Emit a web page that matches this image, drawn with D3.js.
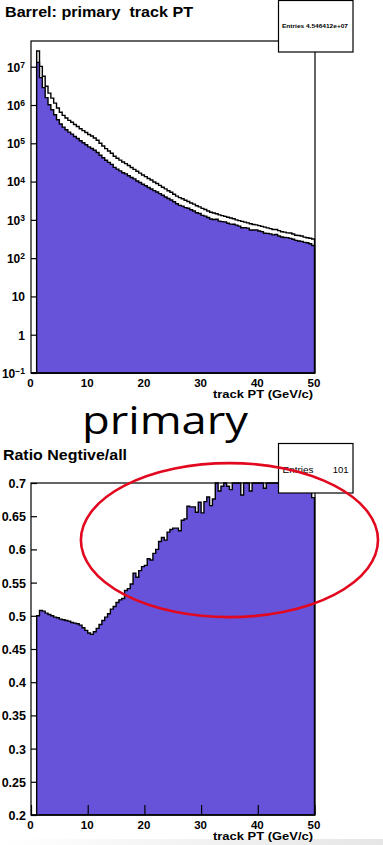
<!DOCTYPE html>
<html><head><meta charset="utf-8">
<script src="https://cdn.jsdelivr.net/npm/d3@7"></script>
<style>
html,body{margin:0;padding:0;background:#fff;}
svg{display:block;}
</style></head><body>
<svg id="c" width="383" height="845"></svg>
<script>
// ---------------- data ----------------
const ptBinWidth = 0.5;
const ptRange = [0, 50];
const allTracks = [0, 0, 2.57e7, 1.02e7, 5.62e6, 3.09e6, 2.04e6, 1.51e6, 1.12e6, 8.32e5,
 6.46e5, 5.37e5, 4.57e5, 3.98e5, 3.55e5, 3.09e5, 2.75e5, 2.40e5, 2.14e5, 1.91e5,
 1.70e5, 1.55e5, 1.38e5, 1.20e5, 1.00e5, 8.51e4, 7.24e4, 6.31e4, 5.50e4, 4.57e4,
 4.07e4, 3.63e4, 3.24e4, 2.95e4, 2.63e4, 2.34e4, 2.09e4, 1.86e4, 1.66e4, 1.48e4,
 1.35e4, 1.20e4, 1.10e4, 9770, 8910, 7940, 7080, 6460, 5750, 5250,
 4680, 4170, 3800, 3550, 3240, 3020, 2750, 2570, 2340, 2190,
 2000, 1860, 1700, 1580, 1510, 1450, 1350, 1290, 1230, 1170,
 1120, 1070, 1000, 955, 912, 871, 832, 794, 759, 741,
 708, 676, 646, 617, 589, 562, 560, 525, 490, 479,
 457, 455, 427, 395, 389, 380, 355, 340, 331, 316];
const negTracks = [0, 0, 1.30e7, 5.18e6, 2.84e6, 1.56e6, 1.02e6, 7.55e5, 5.58e5, 4.14e5,
 3.20e5, 2.65e5, 2.25e5, 1.96e5, 1.74e5, 1.51e5, 1.34e5, 1.17e5, 1.03e5, 9.13e4,
 8.06e4, 7.32e4, 6.57e4, 5.77e4, 4.87e4, 4.20e4, 3.61e4, 3.17e4, 2.81e4, 2.35e4,
 2.12e4, 1.90e4, 1.70e4, 1.59e4, 1.42e4, 1.28e4, 1.18e4, 1.04e4, 9430, 8500,
 7780, 7030, 6420, 5800, 5350, 4860, 4380, 3970, 3600, 3310,
 2960, 2640, 2390, 2290, 2090, 2010, 1830, 1710, 1540, 1470,
 1310, 1250, 1150, 1050, 1020, 1040, 929, 897, 886, 813,
 773, 770, 730, 688, 622, 627, 607, 546, 546, 548,
 510, 493, 447, 444, 430, 405, 414, 378, 358, 345,
 343, 328, 312, 292, 280, 274, 259, 252, 238, 214];
const ratioNegAll = [0, 0, 0.500, 0.508, 0.507, 0.504, 0.502, 0.500, 0.498, 0.497,
 0.495, 0.494, 0.493, 0.492, 0.490, 0.489, 0.488, 0.486, 0.482, 0.478,
 0.474, 0.472, 0.476, 0.481, 0.487, 0.493, 0.498, 0.503, 0.510, 0.514,
 0.520, 0.524, 0.526, 0.538, 0.541, 0.548, 0.564, 0.558, 0.568, 0.574,
 0.576, 0.586, 0.584, 0.594, 0.600, 0.612, 0.618, 0.614, 0.626, 0.630,
 0.632, 0.632, 0.628, 0.644, 0.646, 0.665, 0.664, 0.664, 0.656, 0.671,
 0.655, 0.672, 0.679, 0.666, 0.676, 0.720, 0.688, 0.695, 0.720, 0.695,
 0.690, 0.720, 0.730, 0.720, 0.682, 0.720, 0.730, 0.688, 0.720, 0.740,
 0.720, 0.730, 0.692, 0.720, 0.730, 0.720, 0.740, 0.720, 0.730, 0.720,
 0.750, 0.720, 0.730, 0.740, 0.720, 0.720, 0.730, 0.740, 0.720, 0.678];
const xTickValues = [0, 10, 20, 30, 40, 50];
const xTickLabels = ["0", "10", "20", "30", "40", "50"];
const logTickValues = [1e-1, 1, 10, 1e2, 1e3, 1e4, 1e5, 1e6, 1e7];
const logRange = [0.1, 4.7e7];
const ratioTickValues = [0.2, 0.25, 0.3, 0.35, 0.4, 0.45, 0.5, 0.55, 0.6, 0.65, 0.7];
const ratioTickLabels = ["0.2", "0.25", "0.3", "0.35", "0.4", "0.45", "0.5", "0.55", "0.6", "0.65", "0.7"];
const ratioRange = [0.2, 0.7];
const topTitle = "Barrel: primary  track PT";
const ratioTitle = "Ratio Negtive/all";
const xTitle = "track PT (GeV/c)";
const topEntries = ["Entries", "4.546412e+07"];
const ratioEntries = ["Entries", "101"];
const slideLabel = "primary";
const highlight = {pt: 35, ratio: 0.614, rPt: 26.2, rRatio: 0.116};

// ---------------- drawing ----------------
const svg = d3.select("#c");
const PURPLE = "#6753da";
const FONT = "'Liberation Sans', Arial, Helvetica, sans-serif";

// bottom grey strip of the slide capture
const grad = svg.append("defs").append("linearGradient").attr("id","gs").attr("x1",0).attr("x2",1);
grad.append("stop").attr("offset","0").attr("stop-color","#ffffff");
grad.append("stop").attr("offset","1").attr("stop-color","#e6e6e6");
svg.append("rect").attr("x",0).attr("y",839).attr("width",383).attr("height",6).attr("fill","url(#gs)");

const x = d3.scaleLinear().domain(ptRange).range([31, 314.5]);

function stepPoints(values){
  const pts = values.map((v,i)=>[i*ptBinWidth, v]);
  pts.push([values.length*ptBinWidth, values[values.length-1]]);
  return pts;
}
function histPath(values, yScale){
  const base = yScale.range()[0];
  return d3.area()
    .x(d=>x(d[0]))
    .y0(base)
    .y1(d=> d[1] > 0 ? yScale(d[1]) : base)
    .curve(d3.curveStepAfter)(stepPoints(values));
}
function styleText(sel, size, weight){
  sel.attr("font-family", FONT).attr("font-size", size).attr("font-weight", weight||"bold").attr("fill","#000");
  return sel;
}

// ===== TOP PANEL =====
const yLog = d3.scaleLog().domain(logRange).range([373, 41]).clamp(true);

styleText(svg.append("text").attr("x",5).attr("y",17).style("white-space","pre")
  .attr("textLength",188).attr("lengthAdjust","spacingAndGlyphs").text(topTitle), "15px");

const logMinor = [];
logTickValues.forEach(d=>{ for(let k=2;k<=9;k++){ const v=k*d; if(v<=logRange[1]) logMinor.push(v);} });
const gTopY = svg.append("g").attr("transform","translate(31,0)");
gTopY.call(d3.axisLeft(yLog).tickValues(logMinor).tickSize(-4).tickFormat(()=>""));
gTopY.call(d3.axisLeft(yLog).tickValues(logTickValues).tickSize(-6).tickSizeOuter(0).tickPadding(6).tickFormat(()=>""));
gTopY.selectAll(".domain").remove();
gTopY.selectAll("line").attr("stroke","#000").attr("stroke-width",1.2);
const topLabels = gTopY.selectAll(".tick text").filter(d=>logTickValues.includes(d));
topLabels.each(function(d){
  const t = d3.select(this);
  styleText(t, "12px");
  t.attr("x",-6).attr("dy","0.36em");
  const e = Math.round(Math.log10(d));
  if (e === 0) t.text("1");
  else if (e === 1) t.text("10");
  else {
    t.text(null);
    t.append("tspan").text("10");
    t.append("tspan").attr("dy","-0.45em").attr("font-size","8.5px").text(e<0 ? "\u2212"+(-e) : String(e));
  }
});

svg.append("path").attr("d", histPath(allTracks, yLog)).attr("fill","#fff").attr("stroke","#000").attr("stroke-width",1.4);
svg.append("path").attr("d", histPath(negTracks, yLog)).attr("fill",PURPLE).attr("stroke","#000").attr("stroke-width",1.4);

svg.append("rect").attr("x",31).attr("y",41).attr("width",284).attr("height",332).attr("fill","none").attr("stroke","#000").attr("stroke-width",1.2);

const gTopX = svg.append("g").attr("transform","translate(0,373)");
gTopX.call(d3.axisBottom(x).tickValues(xTickValues).tickSize(0).tickPadding(0).tickFormat((d,i)=>xTickLabels[i]));
gTopX.selectAll(".domain").remove();
gTopX.selectAll(".tick text").each(function(){ styleText(d3.select(this),"11.5px").attr("x",-1).attr("y",13.5).attr("dy",0); });
styleText(svg.append("text").attr("x",313).attr("y",397.5).attr("text-anchor","end")
  .attr("textLength",100).attr("lengthAdjust","spacingAndGlyphs").text(xTitle), "11px");

svg.append("rect").attr("x",278.5).attr("y",0.5).attr("width",74.5).attr("height",51.5).attr("fill","#fff").attr("stroke","#000").attr("stroke-width",1.2);
styleText(svg.append("text").attr("x",282).attr("y",27.5).style("white-space","pre")
  .attr("textLength",66).attr("lengthAdjust","spacingAndGlyphs").text(topEntries[0]+" "+topEntries[1]), "5.5px");

// ===== SLIDE LABEL =====
svg.append("text").attr("x",82).attr("y",434).attr("font-family","'Open Sans', Lato, sans-serif")
  .attr("font-size","38px").attr("fill","#000").attr("textLength",166).attr("lengthAdjust","spacingAndGlyphs").text(slideLabel);

// ===== RATIO PANEL =====
const yR = d3.scaleLinear().domain(ratioRange).range([815, 483]).clamp(true);
styleText(svg.append("text").attr("x",3).attr("y",460).attr("textLength",124).attr("lengthAdjust","spacingAndGlyphs").text(ratioTitle), "15px");

const ratioMinor = d3.range(20, 71).map(v=>v/100).filter(v=>Math.round(v*100)%5!==0);
const gRY = svg.append("g").attr("transform","translate(31,0)");
gRY.call(d3.axisLeft(yR).tickValues(ratioMinor).tickSize(-4).tickFormat(()=>""));
gRY.call(d3.axisLeft(yR).tickValues(ratioTickValues).tickSize(-6).tickSizeOuter(0).tickPadding(5).tickFormat((d,i)=>ratioTickLabels[i]));
gRY.selectAll(".domain").remove();
gRY.selectAll("line").attr("stroke","#000").attr("stroke-width",1.2);
gRY.selectAll(".tick text").each(function(){ styleText(d3.select(this),"12.5px").attr("dy","0.36em"); });

svg.append("path").attr("d", histPath(ratioNegAll, yR)).attr("fill",PURPLE).attr("stroke","#000").attr("stroke-width",1.4);

const gRX = svg.append("g").attr("transform","translate(0,815)");
gRX.call(d3.axisBottom(x).tickValues(d3.range(0,51,2).filter(v=>v%10!==0)).tickSize(-5).tickFormat(()=>""));
gRX.call(d3.axisBottom(x).tickValues(xTickValues).tickSize(-10).tickSizeOuter(0).tickPadding(0).tickFormat((d,i)=>xTickLabels[i]));
gRX.selectAll(".domain").remove();
gRX.selectAll("line").attr("stroke","#000").attr("stroke-width",1.2);
gRX.selectAll(".tick text").each(function(){ styleText(d3.select(this),"11.5px").attr("x",-1).attr("y",13.5).attr("dy",0); });
styleText(svg.append("text").attr("x",313).attr("y",840).attr("text-anchor","end")
  .attr("textLength",100).attr("lengthAdjust","spacingAndGlyphs").text(xTitle), "11px");

svg.append("rect").attr("x",31).attr("y",483).attr("width",284).attr("height",332).attr("fill","none").attr("stroke","#000").attr("stroke-width",1.2);

svg.append("rect").attr("x",278.5).attr("y",443.5).attr("width",74.5).attr("height",49.5).attr("fill","#fff").attr("stroke","#000").attr("stroke-width",1.2);
styleText(svg.append("text").attr("x",282.5).attr("y",472.5).attr("textLength",31).attr("lengthAdjust","spacingAndGlyphs").text(ratioEntries[0]), "9.5px", "normal");
styleText(svg.append("text").attr("x",348.5).attr("y",472.5).attr("text-anchor","end").text(ratioEntries[1]), "9.5px", "normal");

svg.append("ellipse")
  .attr("cx", x(highlight.pt)).attr("cy", yR(highlight.ratio))
  .attr("rx", x(highlight.rPt) - x(0)).attr("ry", yR(0.2) - yR(0.2 + highlight.rRatio))
  .attr("fill","none").attr("stroke","#e1081f").attr("stroke-width",2.6);
</script>
</body></html>
